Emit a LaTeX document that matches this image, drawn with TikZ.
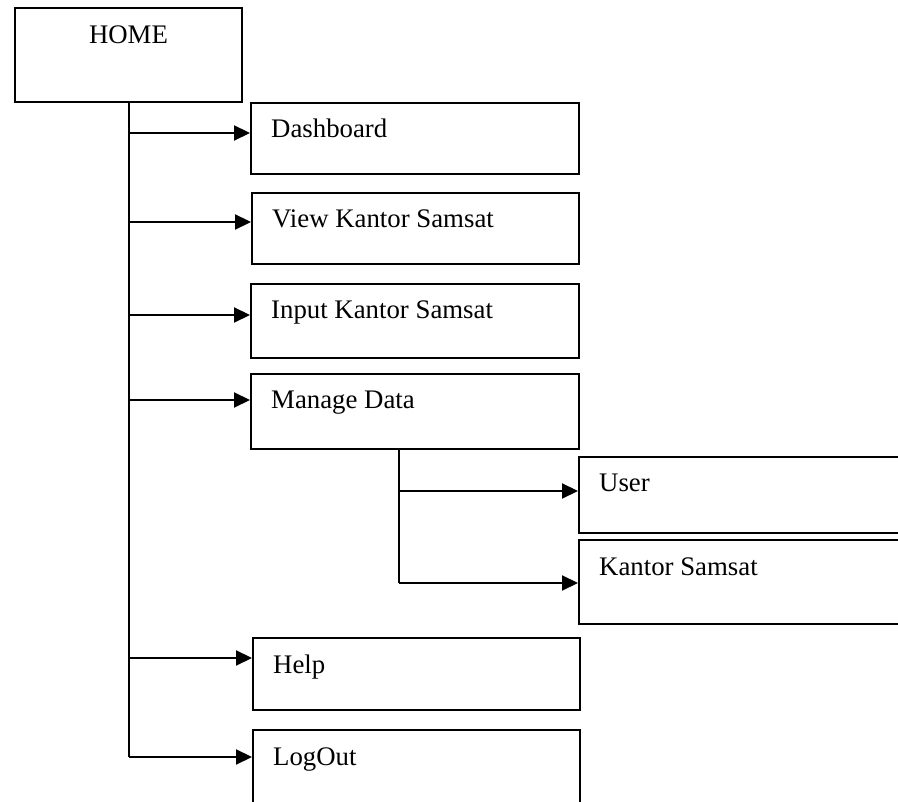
\documentclass[tikz,border=0pt]{standalone}
\usepackage{fontspec}
\setmainfont{Liberation Serif}
\usetikzlibrary{arrows.meta}

\tikzset{
  menubox/.style={draw, line width=2pt, anchor=north west, inner sep=0pt},
  caption/.style={label={[anchor=base west, inner sep=0pt, xshift=21pt, yshift=-36pt]north west:#1}},
  link/.style={line width=2.2pt, -{Triangle[length=16pt, width=15pt]}},
  stem/.style={line width=2.2pt},
}

\begin{document}
\begin{tikzpicture}[x=1pt, y=-1pt, font=\fontsize{26.8}{30}\selectfont]
  \useasboundingbox (0,0) rectangle (898,802);
  \clip (0,0) rectangle (898,802);

  % root of the menu
  \node[menubox, minimum width=227pt, minimum height=94pt,
        label={[anchor=base, inner sep=0pt, yshift=-37pt]north:HOME}]
        (home) at (14,7) {};

  % first level entries
  \node[menubox, minimum width=328pt, minimum height=71pt, caption=Dashboard] (dash) at (250,102) {};
  \node[menubox, minimum width=327pt, minimum height=71pt, caption=View Kantor Samsat] (view) at (251,192) {};
  \node[menubox, minimum width=328pt, minimum height=74pt, caption=Input Kantor Samsat] (input) at (250,283) {};
  \node[menubox, minimum width=328pt, minimum height=75pt, caption=Manage Data] (manage) at (250,373) {};
  \node[menubox, minimum width=327pt, minimum height=72pt, caption=Help] (help) at (252,637) {};
  \node[menubox, minimum width=327pt, minimum height=110pt, caption=LogOut] (logout) at (252,729) {};

  % second level entries under Manage Data
  \node[menubox, minimum width=340pt, minimum height=76pt, caption=User] (user) at (578,456) {};
  \node[menubox, minimum width=340pt, minimum height=84pt, caption=Kantor Samsat] (kantor) at (578,539) {};

  % branch points on the main stem
  \coordinate (t1) at (129,133);
  \coordinate (t2) at (129,222);
  \coordinate (t3) at (129,315);
  \coordinate (t4) at (129,400);
  \coordinate (t5) at (129,658);
  \coordinate (t6) at (129,757);

  % branch points on the Manage Data stem
  \coordinate (s1) at (399,491);
  \coordinate (s2) at (399,583);

  % main stem and its arrows
  \draw[stem] (home.south -| t1) -- (t6);
  \draw[link] (t1) -- (t1 -| dash.west);
  \draw[link] (t2) -- (t2 -| view.west);
  \draw[link] (t3) -- (t3 -| input.west);
  \draw[link] (t4) -- (t4 -| manage.west);
  \draw[link] (t5) -- (t5 -| help.west);
  \draw[link] (t6) -- (t6 -| logout.west);

  % Manage Data stem and its arrows
  \draw[stem] (manage.south -| s1) -- (s2);
  \draw[link] (s1) -- (s1 -| user.west);
  \draw[link] (s2) -- (s2 -| kantor.west);
\end{tikzpicture}
\end{document}
